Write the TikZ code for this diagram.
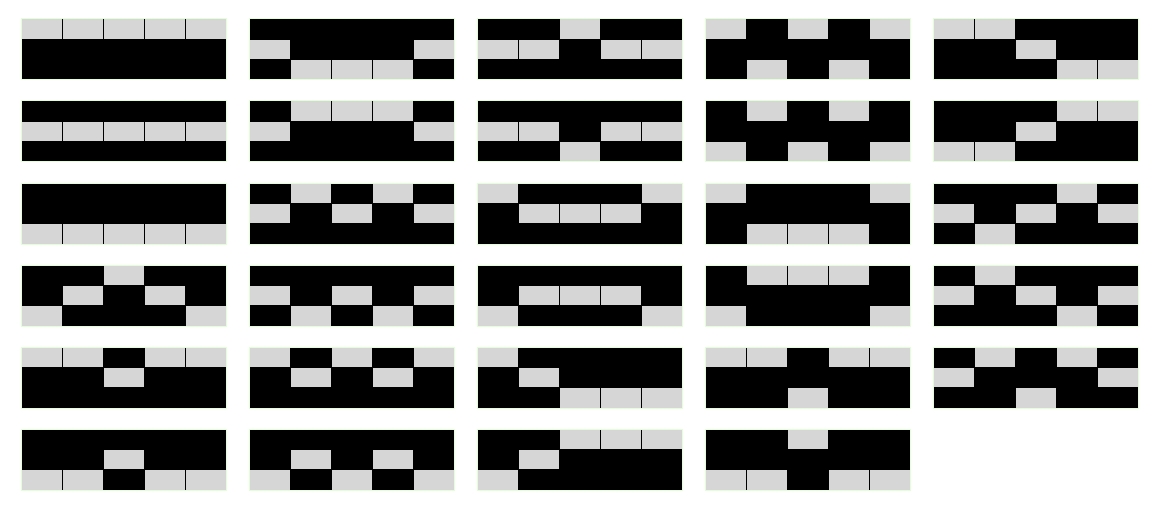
\documentclass[tikz,border=0pt]{standalone}
\definecolor{cellgray}{RGB}{214,214,214}
\definecolor{edgegreen}{RGB}{226,255,216}
\tikzset{
  gridline/.style={black, line width=0.8pt},
  paneledge/.style={edgegreen, line width=1pt}
}
\begin{document}
\begin{tikzpicture}[x=1pt,y=-1pt]
\useasboundingbox[fill=white] (0,0) rectangle (1154,508);
\foreach \p [count=\k from 0] in {
 {1,1,1,1,1,0,0,0,0,0,0,0,0,0,0},
 {0,0,0,0,0,1,0,0,0,1,0,1,1,1,0},
 {0,0,1,0,0,1,1,0,1,1,0,0,0,0,0},
 {1,0,1,0,1,0,0,0,0,0,0,1,0,1,0},
 {1,1,0,0,0,0,0,1,0,0,0,0,0,1,1},
 {0,0,0,0,0,1,1,1,1,1,0,0,0,0,0},
 {0,1,1,1,0,1,0,0,0,1,0,0,0,0,0},
 {0,0,0,0,0,1,1,0,1,1,0,0,1,0,0},
 {0,1,0,1,0,0,0,0,0,0,1,0,1,0,1},
 {0,0,0,1,1,0,0,1,0,0,1,1,0,0,0},
 {0,0,0,0,0,0,0,0,0,0,1,1,1,1,1},
 {0,1,0,1,0,1,0,1,0,1,0,0,0,0,0},
 {1,0,0,0,1,0,1,1,1,0,0,0,0,0,0},
 {1,0,0,0,1,0,0,0,0,0,0,1,1,1,0},
 {0,0,0,1,0,1,0,1,0,1,0,1,0,0,0},
 {0,0,1,0,0,0,1,0,1,0,1,0,0,0,1},
 {0,0,0,0,0,1,0,1,0,1,0,1,0,1,0},
 {0,0,0,0,0,0,1,1,1,0,1,0,0,0,1},
 {0,1,1,1,0,0,0,0,0,0,1,0,0,0,1},
 {0,1,0,0,0,1,0,1,0,1,0,0,0,1,0},
 {1,1,0,1,1,0,0,1,0,0,0,0,0,0,0},
 {1,0,1,0,1,0,1,0,1,0,0,0,0,0,0},
 {1,0,0,0,0,0,1,0,0,0,0,0,1,1,1},
 {1,1,0,1,1,0,0,0,0,0,0,0,1,0,0},
 {0,1,0,1,0,1,0,0,0,1,0,0,1,0,0},
 {0,0,0,0,0,0,0,1,0,0,1,1,0,1,1},
 {0,0,0,0,0,0,1,0,1,0,1,0,1,0,1},
 {0,0,1,1,1,0,1,0,0,0,1,0,0,0,0},
 {0,0,1,0,0,0,0,0,0,0,1,1,0,1,1}}{
  \pgfmathtruncatemacro\pc{mod(\k,5)}
  \pgfmathtruncatemacro\pr{int(\k/5)}
  \pgfmathsetmacro\X{21+228*\pc}
  \pgfmathsetmacro\Y{19+82*\pr}
  \begin{scope}[shift={(\X,\Y)}]
    \foreach \v [count=\j from 0] in \p {
      \pgfmathtruncatemacro\cc{mod(\j,5)}
      \pgfmathtruncatemacro\rr{int(\j/5)}
      \ifnum\v=1 \def\cellcol{cellgray}\else\def\cellcol{black}\fi
      \fill[\cellcol] ({41*\cc},{20.333*\rr}) rectangle ++(41,20.333);
    }
    \foreach \gx in {41,82,123,164} \draw[gridline] (\gx,0) -- (\gx,61);
    \foreach \gy in {20.333,40.667} \draw[gridline] (0,\gy) -- (205,\gy);
    \draw[paneledge] (0,0) rectangle (205,61);
  \end{scope}
}
\end{tikzpicture}
\end{document}
